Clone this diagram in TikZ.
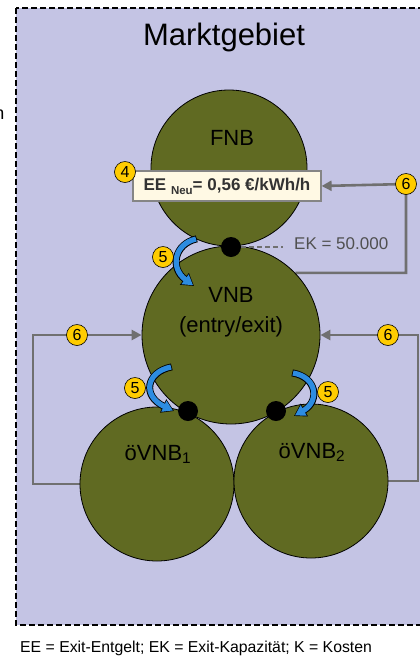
\documentclass[tikz,border=0pt]{standalone}
\usepackage{fontspec}
\setmainfont{Liberation Sans}
\usetikzlibrary{arrows.meta,positioning,backgrounds}
\definecolor{fLav}{RGB}{196,196,228}
\definecolor{fOlive}{RGB}{96,106,34}
\definecolor{fYellow}{RGB}{255,204,0}
\definecolor{fCream}{RGB}{255,249,228}
\definecolor{dGray}{RGB}{112,112,112}
\definecolor{tGray}{RGB}{80,80,80}
\definecolor{dBlue}{RGB}{45,140,225}

\begin{document}
\begin{tikzpicture}[x=1pt,y=-1pt,font=\fontsize{16}{19}\selectfont,
  net/.style={circle,draw=black,line width=0.8pt,fill=fOlive,inner sep=0pt},
  nm/.style={font=\fontsize{22}{26}\selectfont,inner sep=0pt,anchor=base},
  dot/.style={circle,fill=black,minimum size=20pt,inner sep=0pt},
  badge/.style={circle,draw=black,line width=0.6pt,fill=fYellow,minimum size=21pt,inner sep=0pt,font=\fontsize{16}{16}\selectfont},
  ln/.style={draw=dGray,line width=2.6pt},
  ar/.style={ln,-{Triangle[length=10pt,width=10pt]}},
  swO/.style={line width=7pt,black,shorten <=-0.8pt,-{Triangle[length=12pt,width=14pt]}},
  swI/.style={line width=5.2pt,dBlue,shorten >=1.2pt,-{Triangle[length=10pt,width=11.5pt]}}]
\useasboundingbox (0,0) rectangle (420,657);
\begin{scope}[on background layer]
 \fill[fLav] (16,8) rectangle (440,625);
 \draw[line width=1.8pt,dash pattern=on 6pt off 3pt] (16,8) rectangle (440,625);
\end{scope}
\node[anchor=base east,inner sep=0pt,font=\fontsize{18}{18}\selectfont] (cut) at (4.5,119) {n};
\node[anchor=base,inner sep=0pt,font=\fontsize{31}{31}\selectfont] (title) at (224,45) {Marktgebiet};
% Netzbetreiber
\node[net,minimum size=156pt] (fnb) at (229,168) {};
\node[net,minimum size=178pt] (vnb) at (231,335) {};
\node[net,minimum size=154pt] (ovA) at (157,484) {};
\node[net,minimum size=154pt] (ovB) at (311,481) {};
\node[nm] (fnbT) at (232,145) {FNB};
\node[nm] (vnbT) at (231,302) {VNB};
\node[nm] (vnbS) at (231,332) {(entry/exit)};
\node[nm] (ovAT) at (158,460) {öVNB\textsubscript{1}};
\node[nm] (ovBT) at (312,458) {öVNB\textsubscript{2}};
\node[draw=dGray!85,fill=fCream,line width=1.2pt,minimum width=188pt,minimum height=30pt,inner sep=0pt,
  text=black!80,font=\fontsize{17}{17}\selectfont\bfseries] (ee) at (227,186)
  {EE \raisebox{-4pt}{\fontsize{11.5}{11.5}\selectfont Neu}= 0,56 €/kWh/h};
% Kopplungspunkte
\node[dot] (dT) at (231,247) {};
\node[dot] (dA) at (188,411) {};
\node[dot] (dB) at (276,411) {};
\node[anchor=west,inner sep=0pt,text=tGray,font=\fontsize{17}{17}\selectfont] (ek) at (294,244) {EK = 50.000};
\draw[dGray,line width=1.4pt,dash pattern=on 5pt off 3pt,shorten >=11pt] (dT.east) -- (dT -| ek.west);
% Rueckwaelzung
\draw[swO] (196,239) .. controls (174,244) and (170,268) .. (194,286);
\draw[swI] (196,239) .. controls (174,244) and (170,268) .. (194,286);
\draw[swO] (171,367) .. controls (146,372) and (142,396) .. (174,411);
\draw[swI] (171,367) .. controls (146,372) and (142,396) .. (174,411);
\draw[swO] (293,373) .. controls (317,377) and (320,401) .. (294,416);
\draw[swI] (293,373) .. controls (317,377) and (320,401) .. (294,416);
% Nummern
\node[badge] (b4) at (125,172) {4};
\node[badge] (b6t) at (406,184) {6};
\node[badge] (b6l) at (77,335) {6};
\node[badge] (b6r) at (388,335) {6};
\node[badge] (b5t) at (163,257) {5};
\node[badge] (b5l) at (135,388) {5};
\node[badge] (b5r) at (328,392) {5};
\coordinate (lc) at (33,335);
\coordinate (rc) at (418,335);
\begin{scope}[on background layer]
 \draw[ar] (vnb.44) -| (b6t.center) -- (ee.east);
 \draw[ar] (ovA.west) -| (lc) -- (vnb.west);
 \draw[ar] (ovB.east) -| (rc) -- (vnb.east);
\end{scope}
\node[anchor=base west,inner sep=0pt,font=\fontsize{15.8}{16}\selectfont] (foot) at (20,652)
  {EE = Exit-Entgelt; EK = Exit-Kapazität; K = Kosten};
\end{tikzpicture}
\end{document}
